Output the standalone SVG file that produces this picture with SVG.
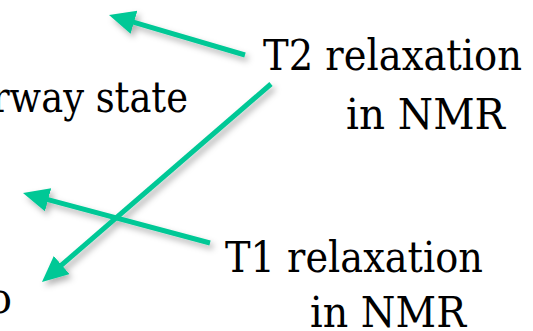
<svg xmlns="http://www.w3.org/2000/svg" width="533" height="331" viewBox="0 0 533 331">
<style>
  .lbl { font-family: 'DejaVu Serif', serif; font-size: 43px; fill: #000; }
  .arrow { stroke: #00c896; stroke-width: 5; fill: none; marker-end: url(#head); }
</style>
<defs>
  <marker id="head" markerUnits="userSpaceOnUse" markerWidth="30" markerHeight="30" refX="6" refY="12" orient="auto">
    <path d="M0,0 L26,12 L0,24 Z" fill="#00c896"/>
  </marker>
  <filter id="shadow" x="-20%" y="-20%" width="140%" height="140%">
    <feDropShadow dx="3" dy="4" stdDeviation="3" flood-color="#000" flood-opacity="0.3"/>
  </filter>
</defs>
<rect width="533" height="331" fill="#fff"/>
<g id="left-texts">
  <text class="lbl" x="-8" y="112" textLength="196" lengthAdjust="spacingAndGlyphs">rway state</text>
  <text class="lbl" x="-12" y="313" textLength="24" lengthAdjust="spacingAndGlyphs">o</text>
</g>
<g id="t2-node">
  <text class="lbl" x="263" y="70" textLength="259" lengthAdjust="spacingAndGlyphs">T2 relaxation</text>
  <text class="lbl" x="346" y="129" textLength="159" lengthAdjust="spacingAndGlyphs">in NMR</text>
</g>
<g id="t1-node">
  <text class="lbl" x="225" y="272" textLength="258" lengthAdjust="spacingAndGlyphs">T1 relaxation</text>
  <text class="lbl" x="310" y="327" textLength="156" lengthAdjust="spacingAndGlyphs">in NMR</text>
</g>
<g id="connectors" filter="url(#shadow)">
  <line class="arrow" x1="245" y1="55" x2="128.2" y2="20.6"/>
  <line class="arrow" x1="271" y1="84" x2="57.1" y2="268.9"/>
  <line class="arrow" x1="210" y1="243" x2="42.3" y2="198.2"/>
</g>
</svg>
